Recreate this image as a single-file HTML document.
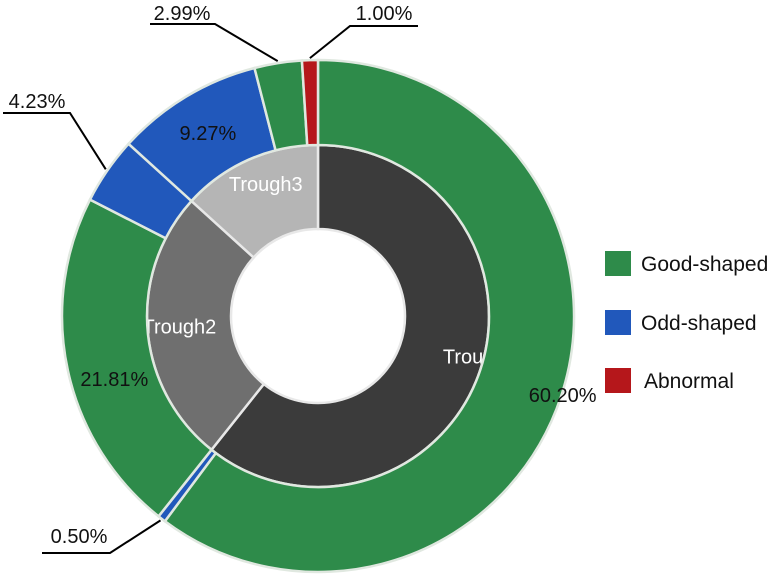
<!DOCTYPE html>
<html><head><meta charset="utf-8"><style>
body{margin:0;background:#fff;}
svg{display:block;font-family:"Liberation Sans",sans-serif;}
</style></head><body>
<svg id="chart" width="776" height="578" viewBox="0 0 776 578" xmlns="http://www.w3.org/2000/svg">
<g id="inner"></g>
<g id="outer"></g>
<g id="labels"></g>
<g font-size="21" fill="#111">
  <rect x="605" y="251" width="26" height="25" fill="#2e8b4a"/>
  <text x="641" y="271">Good-shaped</text>
  <rect x="605" y="310" width="26" height="25" fill="#2158bb"/>
  <text x="641" y="330">Odd-shaped</text>
  <rect x="605" y="368" width="26" height="25" fill="#b5171b"/>
  <text x="644" y="388">Abnormal</text>
</g>
</svg>
<script>
const innerNames = ["Trough1","Trough2","Trough3"];
const innerValues = [60.70, 26.04, 13.26];
const outerCategories = ["Good-shaped","Odd-shaped","Good-shaped","Odd-shaped","Odd-shaped","Good-shaped","Abnormal"];
const outerValues = [60.20, 0.50, 21.81, 4.23, 9.27, 2.99, 1.00];
const outerLabels = ["60.20%","0.50%","21.81%","4.23%","9.27%","2.99%","1.00%"];

const NS="http://www.w3.org/2000/svg";
const cx=318, cy=316, rHole=87, rIn=171, rOut=256;
const catColor={"Good-shaped":"#2e8b4a","Odd-shaped":"#2158bb","Abnormal":"#b5171b"};
const innerColor=["#3b3b3b","#6f6f6f","#b5b5b5"];
function pt(a,r){const t=a*Math.PI/180;return [cx+r*Math.sin(t),cy-r*Math.cos(t)];}
function arc(a0,a1,r0,r1){
  const large=(a1-a0)>180?1:0;
  const p0=pt(a0,r1),p1=pt(a1,r1),p2=pt(a1,r0),p3=pt(a0,r0);
  return `M${p0[0]},${p0[1]}A${r1},${r1} 0 ${large} 1 ${p1[0]},${p1[1]}L${p2[0]},${p2[1]}A${r0},${r0} 0 ${large} 0 ${p3[0]},${p3[1]}Z`;
}
function angles(vals){const tot=vals.reduce((a,b)=>a+b,0);let acc=0;return vals.map(v=>{const a0=acc/tot*360;acc+=v;return [a0,acc/tot*360];});}

const gi=document.getElementById('inner');
angles(innerValues).forEach(([a0,a1],i)=>{
  const p=document.createElementNS(NS,'path');
  p.setAttribute('d',arc(a0,a1,rHole,rIn));
  p.setAttribute('fill',innerColor[i]);p.setAttribute('stroke','#e8e8e8');p.setAttribute('stroke-width','2.5');
  
  
  gi.appendChild(p);
  const m=pt((a0+a1)/2,(rHole+rIn)/2);
  const off=[[40,-2],[-10,0],[0,-14]][i];
  const t=document.createElementNS(NS,'text');
  t.setAttribute('x',m[0]+off[0]);t.setAttribute('y',m[1]+off[1]+7);
  t.setAttribute('text-anchor','middle');t.setAttribute('fill','#fff');t.setAttribute('font-size','20');
  
  
  t.textContent=innerNames[i];gi.appendChild(t);
});

const go=document.getElementById('outer');
const oa=angles(outerValues);
oa.forEach(([a0,a1],i)=>{
  const p=document.createElementNS(NS,'path');
  p.setAttribute('d',arc(a0,a1,rIn,rOut));
  p.setAttribute('fill',catColor[outerCategories[i]]);p.setAttribute('stroke','#e0e8e0');p.setAttribute('stroke-width','2.5');
  
  
  go.appendChild(p);
});

const gl=document.getElementById('labels');
// inside labels: indices 0,2,4 ; outside with leader: 1,3,5,6
const inside={0:[42,12],2:[5,18],4:[0,0]};
const outside={1:{tx:79,ty:543,ux0:42,ux1:110,uy:553,end:'right'},
               3:{tx:37,ty:108,ux0:3,ux1:70,uy:113,end:'right'},
               5:{tx:182,ty:20,ux0:150,ux1:215,uy:24,end:'right'},
               6:{tx:384,ty:20,ux0:350,ux1:418,uy:26,end:'left'}};
oa.forEach(([a0,a1],i)=>{
  const mid=(a0+a1)/2;
  if(inside[i]){
    const m=pt(mid,(rIn+rOut)/2);
    const t=document.createElementNS(NS,'text');
    t.setAttribute('x',m[0]+inside[i][0]);t.setAttribute('y',m[1]+inside[i][1]+7);
    t.setAttribute('text-anchor','middle');t.setAttribute('font-size','20');t.setAttribute('fill','#111');
    
    
    t.textContent=outerLabels[i];gl.appendChild(t);
  } else {
    const o=outside[i];const e=pt(mid,rOut+2);
    const sx=o.end==='right'?o.ux1:o.ux0;
    const pl=document.createElementNS(NS,'polyline');
    pl.setAttribute('points',`${o.end==='right'?o.ux0:o.ux1},${o.uy} ${sx},${o.uy} ${e[0]},${e[1]}`);
    pl.setAttribute('fill','none');pl.setAttribute('stroke','#000');pl.setAttribute('stroke-width','2');
    
    
    gl.appendChild(pl);
    const t=document.createElementNS(NS,'text');
    t.setAttribute('x',o.tx);t.setAttribute('y',o.ty);
    t.setAttribute('text-anchor','middle');t.setAttribute('font-size','20');t.setAttribute('fill','#111');
    
    
    t.textContent=outerLabels[i];gl.appendChild(t);
  }
});
</script>
</body></html>
